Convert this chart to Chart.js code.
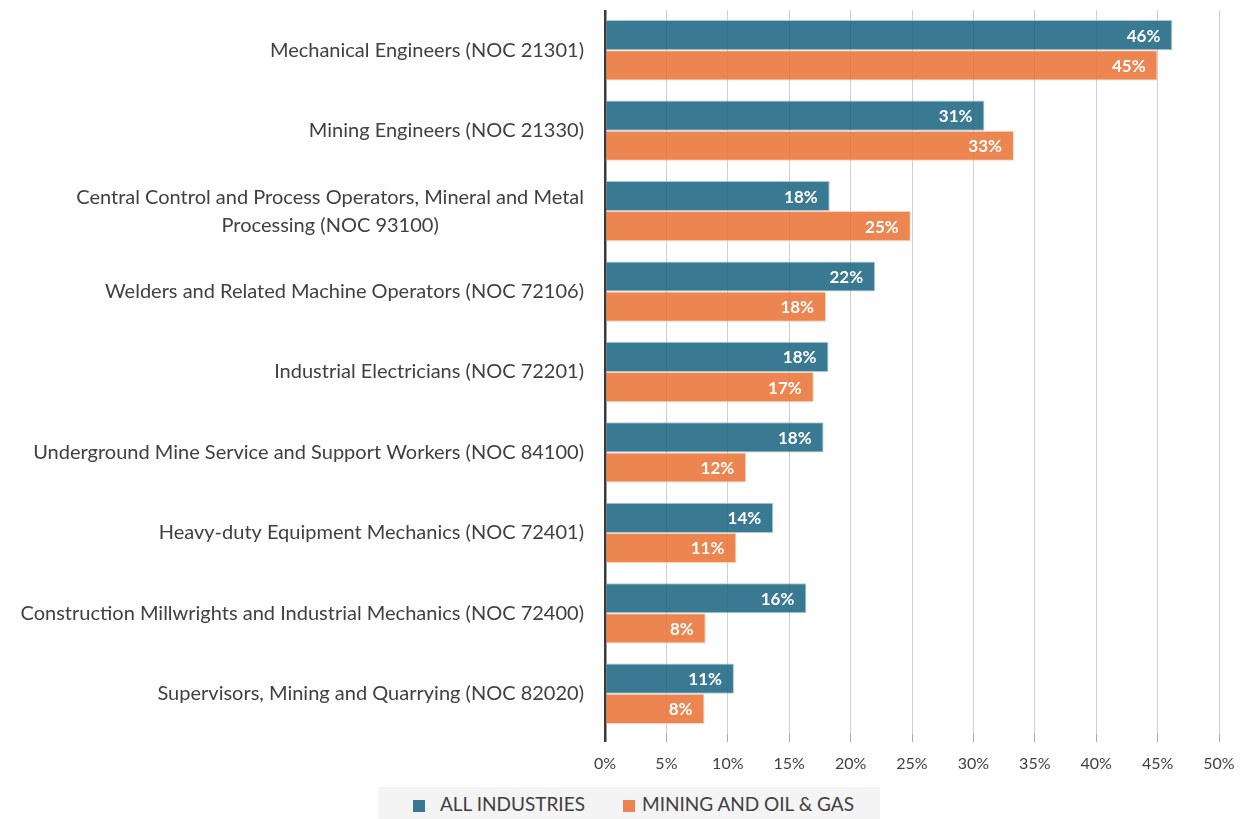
<!DOCTYPE html>
<html><head><meta charset="utf-8">
<script src="https://cdn.jsdelivr.net/npm/chart.js@4.4.1/dist/chart.umd.min.js"></script>
<style>
html,body{margin:0;padding:0;background:#fff;}
#wrap{width:1247px;height:819px;position:relative;}
#legend{position:absolute;left:378px;top:787px;width:502px;height:32px;background:#f4f4f4;font-family:Lato,'Open Sans',sans-serif;font-size:19px;color:#404040;}
#legend .sw{position:absolute;top:13px;width:12px;height:12px;}
#legend .tx{position:absolute;top:6px;line-height:22px;white-space:nowrap;}
</style>
</head><body><div id="wrap"><canvas id="c" width="1247" height="819"></canvas>
<div id="legend"></div></div>
<script>
const categories = [
  "Mechanical Engineers (NOC 21301)",
  "Mining Engineers (NOC 21330)",
  ["Central Control and Process Operators, Mineral and Metal", "Processing (NOC 93100)"],
  "Welders and Related Machine Operators (NOC 72106)",
  "Industrial Electricians (NOC 72201)",
  "Underground Mine Service and Support Workers (NOC 84100)",
  "Heavy-duty Equipment Mechanics (NOC 72401)",
  "Construction Millwrights and Industrial Mechanics (NOC 72400)",
  "Supervisors, Mining and Quarrying (NOC 82020)"
];
const allIndustries = [46.2, 30.9, 18.3, 22.0, 18.2, 17.8, 13.7, 16.4, 10.5];
const miningOilGas = [45.0, 33.3, 24.9, 18.0, 17.0, 11.5, 10.7, 8.2, 8.1];
const seriesNames = ["ALL INDUSTRIES", "MINING AND OIL & GAS"];
const seriesColors = ['rgba(31,102,131,0.88)', 'rgba(233,116,56,0.88)'];
const xTicks = [0, 5, 10, 15, 20, 25, 30, 35, 40, 45, 50];

const FONT = "Lato, 'Open Sans', sans-serif";

// HTML legend
(function () {
  const lg = document.getElementById('legend');
  const swX = [35, 245], txX = [62, 264];
  seriesNames.forEach((n, i) => {
    const s = document.createElement('div'); s.className = 'sw';
    s.style.left = swX[i] + 'px'; s.style.background = seriesColors[i];
    const t = document.createElement('div'); t.className = 'tx';
    t.style.left = txX[i] + 'px'; t.textContent = n;
    lg.appendChild(s); lg.appendChild(t);
  });
})();

const yLabels = {
  id: 'yLabels',
  afterDraw(chart) {
    const ctx = chart.ctx, sc = chart.scales.y;
    ctx.save();
    ctx.fillStyle = '#404040';
    ctx.font = "20px " + FONT;
    ctx.textBaseline = 'middle';
    const right = 584, lh = 28;
    categories.forEach((lab, i) => {
      const y = sc.getPixelForTick(i);
      if (Array.isArray(lab)) {
        const w = Math.max(...lab.map(l => ctx.measureText(l).width));
        ctx.textAlign = 'center';
        const cx = right - w / 2;
        lab.forEach((l, j) => ctx.fillText(l, cx, y + (j - (lab.length - 1) / 2) * lh));
      } else {
        ctx.textAlign = 'right';
        ctx.fillText(lab, right, y);
      }
    });
    ctx.restore();
  }
};

const valueLabels = {
  id: 'valueLabels',
  afterDatasetsDraw(chart) {
    const ctx = chart.ctx;
    ctx.save();
    ctx.fillStyle = '#ffffff';
    ctx.font = "bold 17px " + FONT;
    ctx.textAlign = 'right';
    ctx.textBaseline = 'middle';
    chart.data.datasets.forEach((ds, di) => {
      const meta = chart.getDatasetMeta(di);
      meta.data.forEach((el, i) => {
        ctx.fillText(Math.round(ds.data[i]) + '%', el.x - 12, el.y + 1);
      });
    });
    ctx.restore();
  }
};

new Chart(document.getElementById('c'), {
  type: 'bar',
  data: {
    labels: categories,
    datasets: [
      { label: seriesNames[0], data: allIndustries, backgroundColor: seriesColors[0], borderColor: 'rgba(150,190,210,0.8)', borderWidth: 1, categoryPercentage: 0.75, barPercentage: 1.0 },
      { label: seriesNames[1], data: miningOilGas, backgroundColor: seriesColors[1], borderColor: 'rgba(250,200,170,0.8)', borderWidth: 1, categoryPercentage: 0.75, barPercentage: 1.0 }
    ]
  },
  options: {
    indexAxis: 'y',
    responsive: false,
    animation: false,
    layout: { padding: { left: 10, right: 28, top: 10, bottom: 33 } },
    scales: {
      y: {
        grid: { display: false, drawTicks: false },
        border: { display: false },
        ticks: { display: false },
        afterFit(s) { s.width = 595; s.paddingTop = 0; s.paddingBottom = 0; }
      },
      x: {
        min: 0, max: 50,
        afterBuildTicks(s) { s.ticks = xTicks.map(v => ({ value: v })); },
        grid: {
          color: c => c.tick && c.tick.value === 0 ? '#3a3a3a' : '#d0d0d0',
          lineWidth: c => c.tick && c.tick.value === 0 ? 2.5 : 1,
          tickLength: 8,
          tickColor: c => c.tick && c.tick.value === 0 ? '#3a3a3a' : '#a8a8a8'
        },
        border: { display: false },
        ticks: { color: '#404040', font: { family: FONT, size: 16 }, padding: 12, callback: v => v + '%' },
        afterFit(s) { s.height = 52; s.paddingLeft = 0; s.paddingRight = 0; }
      }
    },
    plugins: {
      legend: { display: false },
      tooltip: { enabled: false }
    }
  },
  plugins: [valueLabels, yLabels]
});
</script></body></html>
